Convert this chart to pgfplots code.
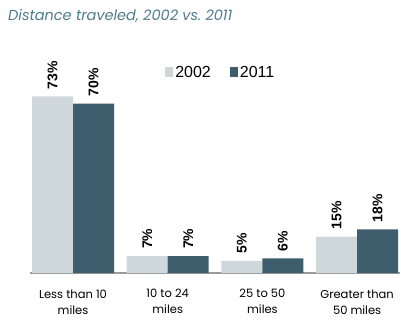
\documentclass[border=0pt]{standalone}
\usepackage{fontspec}
\setmainfont{Poppins}
\newfontfamily\legfont{Liberation Sans}
\usepackage{pgfplots}
\pgfplotsset{compat=1.18}
\definecolor{barlight}{HTML}{CED7DA}
\definecolor{bardark}{HTML}{3E5E6D}
\definecolor{titlec}{HTML}{4E7C8C}
\definecolor{axisgray}{HTML}{9A9A9A}

\begin{document}
\begin{tikzpicture}
\path[use as bounding box] (0pt,0pt) rectangle (401pt,321pt);
\node[anchor=base west, inner sep=0pt, text=titlec,
      font=\fontsize{14.5}{14.5}\selectfont\itshape] at (8pt,300pt)
      {Distance traveled, 2002 vs.\ 2011};
\begin{axis}[
  at={(73pt,48pt)}, anchor=origin,
  scale only axis, width=370pt, height=193.6pt,
  ybar=0pt, bar width=41pt,
  xmin=-0.454, xmax=3.453, ymin=0, ymax=80,
  hide y axis,
  axis x line*=bottom,
  x axis line style={axisgray, line width=1.2pt, -},
  xtick={0,1,2,3},
  xticklabels={Less than 10\\miles, 10 to 24\\miles, 25 to 50\\miles, Greater than\\50 miles},
  major tick length=0pt,
  xticklabel style={align=center, font=\fontsize{11.5}{16}\selectfont, yshift=-13pt},
  /pgf/number format/assume math mode=true,
  nodes near coords={\pgfmathprintnumber{\pgfplotspointmeta}\%},
  nodes near coords style={rotate=90, anchor=west, inner xsep=7pt,
      font=\legfont\bfseries\fontsize{14}{14}\selectfont},
  legend style={at={(0.357,1.09)}, anchor=north west, draw=none, fill=none,
      font=\legfont\fontsize{16}{16}\selectfont,
      /tikz/every even column/.append style={column sep=17pt}},
  legend columns=2,
  legend image code/.code={\fill[#1] (-3pt,-4pt) rectangle (5pt,6pt);},
]
\addplot[fill=barlight, draw=none] coordinates {(0,73) (1,7) (2,5) (3,15)};
\addplot[fill=bardark, draw=none] coordinates {(0,70) (1,7) (2,6) (3,18)};
\legend{2002,2011}
\end{axis}
\end{tikzpicture}
\end{document}
